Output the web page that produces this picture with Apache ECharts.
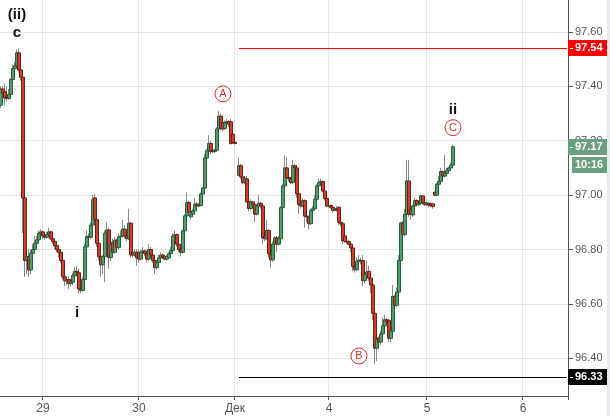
<!DOCTYPE html>
<html>
<head>
<meta charset="utf-8">
<title>Candles 30m</title>
<script src="https://cdn.jsdelivr.net/npm/echarts@6/dist/echarts.min.js"></script>
<style>
  html, body { margin: 0; padding: 0; background: #fff; }
  #chart { width: 610px; height: 416px; }
</style>
</head>
<body>
<div id="chart"></div>
<script>
  // 30 min candles, [open, close, low, high]; null = missing bar
  const candles = [
    [97.33, 97.39, 97.32, 97.40], [97.39, 97.375, 97.36, 97.40], [97.38, 97.357, 97.33, 97.41], [97.36, 97.355, 97.345, 97.40],
    [97.355, 97.37, 97.35, 97.39], [97.37, 97.425, 97.36, 97.43], [97.425, 97.465, 97.41, 97.48], [97.465, 97.475, 97.44, 97.49],
    [97.475, 97.523, 97.47, 97.535], [97.523, 97.46, 97.45, 97.54], [97.46, 97.433, 97.42, 97.47], [97.433, 96.99, 96.86, 97.44],
    [96.99, 96.76, 96.70, 97.00], [96.76, 96.775, 96.71, 96.79], [96.775, 96.725, 96.70, 96.80], [96.725, 96.786, 96.71, 96.80],
    [96.786, 96.80, 96.77, 96.82], [96.80, 96.823, 96.79, 96.85], [96.823, 96.836, 96.81, 96.85], [96.836, 96.86, 96.83, 96.87],
    [96.86, 96.865, 96.85, 96.875], [96.865, 96.85, 96.84, 96.87], [96.85, 96.845, 96.835, 96.86], [96.845, 96.855, 96.84, 96.865],
    [96.855, 96.865, 96.85, 96.88], [96.865, 96.84, 96.835, 96.87], [96.84, 96.83, 96.82, 96.85], [96.83, 96.815, 96.80, 96.84],
    [96.815, 96.80, 96.79, 96.82], [96.80, 96.79, 96.77, 96.81], [96.79, 96.76, 96.75, 96.80], [96.76, 96.70, 96.69, 96.77],
    [96.70, 96.685, 96.665, 96.71], [96.685, 96.69, 96.67, 96.70], [96.69, 96.675, 96.655, 96.70], [96.675, 96.68, 96.665, 96.69],
    [96.68, 96.705, 96.67, 96.715], [96.705, 96.72, 96.69, 96.735], [96.72, 96.715, 96.70, 96.74], [96.715, 96.655, 96.64, 96.73],
    [96.655, 96.65, 96.64, 96.665], [96.65, 96.69, 96.645, 96.70], [96.69, 96.81, 96.68, 96.82], [96.81, 96.848, 96.80, 96.87],
    [96.848, 96.845, 96.84, 96.86], [96.845, 96.89, 96.84, 96.90], [96.89, 96.983, 96.88, 97.00], [96.99, 96.91, 96.90, 97.005],
    [96.91, 96.823, 96.81, 96.93], [96.823, 96.774, 96.76, 96.85], [96.774, 96.744, 96.70, 96.79], [96.744, 96.774, 96.71, 96.78],
    [96.774, 96.86, 96.68, 96.87], [96.86, 96.872, 96.85, 96.90], [96.872, 96.771, 96.73, 96.88], [96.771, 96.82, 96.76, 96.83],
    [96.826, 96.79, 96.78, 96.84], [96.79, 96.835, 96.785, 96.845], [96.834, 96.807, 96.79, 96.84], [96.807, 96.847, 96.80, 96.86],
    [96.847, 96.85, 96.83, 96.87], [96.85, 96.875, 96.845, 96.91], [96.875, 96.85, 96.84, 96.89], [96.85, 96.84, 96.83, 96.86],
    [96.84, 96.897, 96.835, 96.95], [96.897, 96.78, 96.77, 96.90], [96.79, 96.78, 96.77, 96.80], [96.78, 96.79, 96.775, 96.80],
    [96.79, 96.77, 96.74, 96.80], [96.79, 96.765, 96.75, 96.80], [96.765, 96.79, 96.76, 96.80], [96.79, 96.795, 96.78, 96.81],
    [96.795, 96.785, 96.775, 96.80], [96.785, 96.765, 96.755, 96.79], [96.765, 96.80, 96.76, 96.82], [96.80, 96.78, 96.775, 96.81],
    [96.78, 96.76, 96.75, 96.79], [96.76, 96.734, 96.71, 96.765], [96.734, 96.752, 96.725, 96.76], [96.752, 96.77, 96.745, 96.78],
    [96.77, 96.78, 96.765, 96.79], [96.78, 96.77, 96.765, 96.785], [96.775, 96.765, 96.76, 96.78], [96.765, 96.775, 96.76, 96.78],
    [96.77, 96.785, 96.765, 96.79], [96.785, 96.797, 96.78, 96.81], [96.797, 96.85, 96.79, 96.86], [96.85, 96.855, 96.84, 96.87],
    [96.855, 96.82, 96.81, 96.86], [96.82, 96.80, 96.79, 96.83], [96.80, 96.79, 96.775, 96.805], [96.79, 96.869, 96.785, 96.875],
    [96.869, 96.924, 96.86, 96.93], [96.924, 96.973, 96.92, 97.01], [96.973, 96.936, 96.925, 96.98], [96.92, 96.93, 96.91, 96.94],
    [96.93, 96.942, 96.925, 96.95], [96.942, 96.967, 96.94, 96.99], [96.967, 96.96, 96.95, 96.975], [96.96, 96.962, 96.955, 96.97],
    [96.962, 97.004, 96.96, 97.01], [97.004, 97.026, 97.0, 97.03], [97.026, 97.136, 97.02, 97.15], [97.136, 97.163, 97.13, 97.17],
    [97.163, 97.19, 97.15, 97.22], [97.19, 97.16, 97.15, 97.20], [97.165, 97.16, 97.155, 97.17], [97.16, 97.165, 97.155, 97.17],
    [97.165, 97.243, 97.16, 97.25], [97.243, 97.29, 97.24, 97.31], [97.29, 97.245, 97.24, 97.30], [97.267, 97.243, 97.235, 97.275],
    [97.245, 97.265, 97.24, 97.275], [97.265, 97.27, 97.26, 97.28], [97.27, 97.26, 97.25, 97.275], [97.27, 97.19, 97.185, 97.28],
    [97.224, 97.194, 97.19, 97.23], [97.195, 97.19, 97.185, 97.20], null, [97.073, 97.108, 97.07, 97.138],
    [97.108, 97.067, 97.06, 97.115], [97.067, 97.046, 97.04, 97.075], [97.046, 97.06, 97.04, 97.07], [97.06, 96.976, 96.97, 97.07],
    [96.976, 96.951, 96.94, 96.98], [96.951, 96.975, 96.945, 96.985], [96.975, 96.965, 96.955, 96.98], [96.965, 96.93, 96.90, 96.97],
    [96.93, 96.96, 96.925, 96.965], [96.96, 96.97, 96.955, 97.0], [96.97, 96.96, 96.95, 96.975], [96.96, 96.843, 96.82, 96.965],
    [96.85, 96.84, 96.83, 96.855], [96.84, 96.87, 96.835, 96.91], [96.87, 96.784, 96.77, 96.875], [96.784, 96.762, 96.735, 96.79],
    [96.762, 96.82, 96.755, 96.83], [96.82, 96.843, 96.81, 96.85], [96.843, 96.82, 96.79, 96.85], [96.82, 96.84, 96.815, 96.85],
    [96.84, 96.954, 96.835, 96.96], [96.954, 97.034, 96.95, 97.04], [97.034, 97.10, 97.03, 97.145], [97.10, 97.065, 97.06, 97.14],
    [97.065, 97.06, 97.05, 97.07], [97.06, 97.046, 97.04, 97.065], [97.046, 97.108, 97.04, 97.13], [97.108, 97.10, 97.09, 97.115],
    [97.10, 97.005, 96.99, 97.11], [97.005, 96.966, 96.93, 97.01], [96.966, 96.96, 96.95, 96.975], [96.96, 96.98, 96.955, 96.99],
    [96.98, 96.923, 96.88, 96.985], [96.923, 96.92, 96.90, 96.93], [96.92, 96.895, 96.874, 96.925], [96.895, 96.944, 96.89, 96.95],
    [96.944, 96.95, 96.94, 96.96], [96.95, 96.985, 96.945, 97.0], [96.985, 97.034, 96.98, 97.04], [97.034, 97.046, 97.03, 97.06],
    [97.046, 97.05, 97.04, 97.06], [97.05, 97.015, 97.01, 97.055], [97.015, 96.988, 96.98, 97.02], [96.988, 96.96, 96.955, 96.99],
    [96.96, 96.962, 96.955, 96.97], [96.962, 96.955, 96.95, 96.965], [96.955, 96.944, 96.935, 96.96], [96.944, 96.95, 96.94, 96.955],
    [96.95, 96.945, 96.94, 96.96], [96.955, 96.90, 96.89, 96.96], [96.90, 96.895, 96.885, 96.905], [96.895, 96.833, 96.82, 96.90],
    [96.85, 96.83, 96.825, 96.86], [96.83, 96.828, 96.82, 96.835], [96.83, 96.82, 96.815, 96.835], [96.82, 96.806, 96.79, 96.825],
    [96.806, 96.738, 96.72, 96.81], [96.738, 96.726, 96.715, 96.745], [96.726, 96.757, 96.72, 96.77], [96.757, 96.762, 96.75, 96.78],
    [96.755, 96.76, 96.745, 96.77], [96.76, 96.686, 96.665, 96.78], [96.686, 96.708, 96.675, 96.715], [96.708, 96.718, 96.70, 96.76],
    [96.72, 96.695, 96.685, 96.74], [96.695, 96.67, 96.64, 96.70], [96.67, 96.566, 96.54, 96.675], [96.566, 96.437, 96.38, 96.57],
    [96.437, 96.471, 96.39, 96.50], [96.475, 96.46, 96.45, 96.48], [96.46, 96.49, 96.45, 96.50], [96.49, 96.52, 96.485, 96.55],
    [96.52, 96.542, 96.515, 96.56], [96.542, 96.535, 96.525, 96.55], [96.54, 96.474, 96.46, 96.545], [96.474, 96.50, 96.46, 96.51],
    [96.50, 96.628, 96.495, 96.67], [96.628, 96.595, 96.585, 96.635], [96.595, 96.644, 96.59, 96.66], [96.644, 96.76, 96.64, 96.78],
    [96.76, 96.898, 96.755, 96.90], [96.898, 96.855, 96.82, 96.905], [96.855, 96.93, 96.85, 96.95], [96.93, 97.052, 96.925, 97.13],
    [97.052, 96.93, 96.92, 97.13], [96.948, 96.929, 96.91, 96.955], [96.927, 96.96, 96.92, 96.965], [96.96, 96.98, 96.955, 96.99],
    [96.98, 96.965, 96.96, 96.985], [96.965, 96.97, 96.96, 96.975], [96.97, 96.997, 96.965, 97.0], [96.997, 96.972, 96.965, 97.0],
    [96.972, 96.966, 96.96, 96.975], [96.966, 96.97, 96.96, 96.975], [96.97, 96.963, 96.955, 96.975], [96.968, 96.962, 96.955, 96.972],
    [96.968, 96.958, 96.95, 96.97], [97.01, 97.0, 96.995, 97.015], [97.0, 97.04, 96.995, 97.045], [97.04, 97.05, 97.035, 97.07],
    [97.05, 97.087, 97.045, 97.10], [97.087, 97.07, 97.065, 97.09], [97.07, 97.08, 97.065, 97.148], [97.08, 97.09, 97.075, 97.10],
    [97.09, 97.10, 97.085, 97.105], [97.10, 97.11, 97.095, 97.12], [97.11, 97.178, 97.105, 97.185]
  ];

  // time slots on the axis (plot runs on past the last bar)
  const slotCount = 284;
  const dayIndex = [21, 69, 117, 164, 213, 261];
  const dayLabel = ['29', '30', 'Дек', '4', '5', '6'];

  // levels drawn from the start of the december session
  const levelStart = 119;
  const upperLevel = 97.54;
  const lowerLevel = 96.33;
  const lastPrice = '97.17';
  const lastTime = '10:16';

  // wave counts: [slot, price, text]
  const waveText = [[8, 97.662, '(ii)'], [8, 97.597, 'c'], [38, 96.567, 'i'], [226, 97.315, 'ii']];
  const waveCircle = [[111, 97.372, 'A'], [179, 96.409, 'B'], [226, 97.248, 'C']];

  const FONT = 'Liberation Sans, Arial, sans-serif';
  const upFill = '#4f9d6d', upLine = '#24603b';
  const downFill = '#d93a2c', downLine = '#6a2015';
  const wickColor = '#8a8a8a';
  const circleRed = '#dc2b2b';

  const slots = [];
  for (let i = 0; i < slotCount; i++) slots.push(String(i));
  const isDay = (i) => dayIndex.indexOf(i) >= 0;

  const wickData = candles.map(c => c ? c : ['-', '-', '-', '-']);
  const bodyData = candles.map(c => c ? [c[0], c[1], Math.min(c[0], c[1]), Math.max(c[0], c[1])] : ['-', '-', '-', '-']);

  const marks = [];
  for (const w of waveText) {
    marks.push({
      coord: [w[0], w[1]],
      symbol: 'circle',
      symbolSize: 1,
      itemStyle: {color: 'rgba(0,0,0,0)', borderWidth: 0},
      label: {show: true, position: 'inside', formatter: w[2], color: '#111', fontSize: 15, fontWeight: 'bold', fontFamily: FONT},
    });
  }
  for (const w of waveCircle) {
    marks.push({
      coord: [w[0], w[1]],
      symbol: 'circle',
      symbolSize: 16,
      itemStyle: {color: '#fff', borderColor: circleRed, borderWidth: 1},
      label: {show: true, position: 'inside', formatter: w[2], color: circleRed, fontSize: 11, fontFamily: FONT},
    });
  }

  const chart = echarts.init(document.getElementById('chart'));

  chart.setOption({
    animation: false,
    backgroundColor: '#fff',
    textStyle: {fontFamily: FONT},
    grid: {
      left: 0,
      right: 42,
      top: 0,
      bottom: 20,
      containLabel: false,
      outerBoundsMode: 'none',
    },
    xAxis: {
      type: 'category',
      data: slots,
      boundaryGap: true,
      axisLine: {lineStyle: {color: '#555', width: 1}},
      axisTick: {
        show: true,
        length: 4,
        interval: (i) => isDay(i),
        lineStyle: {color: '#555'},
      },
      axisLabel: {
        interval: (i) => isDay(i),
        formatter: (v, i) => dayLabel[dayIndex.indexOf(i)] || '',
        color: '#555',
        fontSize: 12,
        margin: 7,
        fontFamily: 'Liberation Sans Narrow, Liberation Sans, Arial, sans-serif',
      },
      splitLine: {
        show: true,
        interval: (i) => isDay(i),
        lineStyle: {color: '#e6e6e6', width: 1},
      },
    },
    yAxis: {
      type: 'value',
      position: 'right',
      scale: true,
      min: 96.262,
      max: 97.717,
      splitNumber: 7,
      axisLine: {show: true, lineStyle: {color: '#555', width: 1}},
      axisTick: {show: true, length: 5, lineStyle: {color: '#555'}},
      axisLabel: {
        color: '#555',
        fontSize: 11,
        margin: 7,
        showMinLabel: false,
        showMaxLabel: false,
        formatter: (v) => v.toFixed(2),
      },
      splitLine: {
        show: true,
        showMinLine: false,
        showMaxLine: false,
        lineStyle: {color: '#e6e6e6', width: 1},
      },
    },
    series: [
      {
        name: 'wick',
        type: 'candlestick',
        data: wickData,
        barWidth: 1,
        silent: true,
        itemStyle: {
          color: wickColor,
          color0: wickColor,
          borderColor: wickColor,
          borderColor0: wickColor,
          borderColorDoji: wickColor,
          borderWidth: 1,
        },
        markLine: {
          silent: true,
          symbol: 'none',
          animation: false,
          label: {show: false},
          data: [
            [{coord: [levelStart, upperLevel], lineStyle: {color: '#ff0000', width: 1, type: 'solid'}},
              {coord: [slotCount - 1, upperLevel]}],
            [{coord: [levelStart, lowerLevel], lineStyle: {color: '#000000', width: 1, type: 'solid'}},
              {coord: [slotCount - 1, lowerLevel]}],
          ],
        },
      },
      {
        name: 'body',
        type: 'candlestick',
        data: bodyData,
        barWidth: 3,
        silent: true,
        itemStyle: {
          color: upFill,
          color0: downFill,
          borderColor: upLine,
          borderColor0: downLine,
          borderColorDoji: upLine,
          borderWidth: 1,
        },
        markPoint: {
          silent: true,
          animation: false,
          data: marks,
        },
      },
    ],
  });

  // price tags sitting on the right axis
  const axisX = Math.round(chart.convertToPixel({xAxisIndex: 0}, slotCount - 1)) + 1;
  const lastClose = candles[candles.length - 1][1];

  function tag(value, text, bg) {
    const y = Math.round(chart.convertToPixel({yAxisIndex: 0}, value));
    return [
      {type: 'rect', z: 100, shape: {x: axisX, y: y - 8, width: 40, height: 16}, style: {fill: bg}},
      {type: 'line', z: 101, shape: {x1: axisX + 2, y1: y + 0.5, x2: axisX + 5, y2: y + 0.5}, style: {stroke: '#fff', lineWidth: 1}},
      {type: 'text', z: 101, x: axisX + 7, y: y, style: {text: text, fill: '#fff', font: 'bold 11px ' + FONT, verticalAlign: 'middle'}},
    ];
  }

  const yLast = Math.round(chart.convertToPixel({yAxisIndex: 0}, lastClose));
  const graphics = [].concat(
    tag(upperLevel, upperLevel.toFixed(2), '#ff0000'),
    tag(lowerLevel, lowerLevel.toFixed(2), '#000000'),
    tag(lastClose, lastPrice, '#6b9f7f'),
    [
      {type: 'rect', z: 100, shape: {x: axisX + 4, y: yLast + 10, width: 36, height: 16}, style: {fill: '#6b9f7f'}},
      {type: 'text', z: 101, x: axisX + 7, y: yLast + 18, style: {text: lastTime, fill: '#fff', font: 'bold 11px ' + FONT, verticalAlign: 'middle'}},
      {type: 'rect', z: 100, shape: {x: 607, y: 0, width: 3, height: 416}, style: {fill: '#e6eaee'}},
    ]
  );

  chart.setOption({graphic: graphics});
</script>
</body>
</html>
